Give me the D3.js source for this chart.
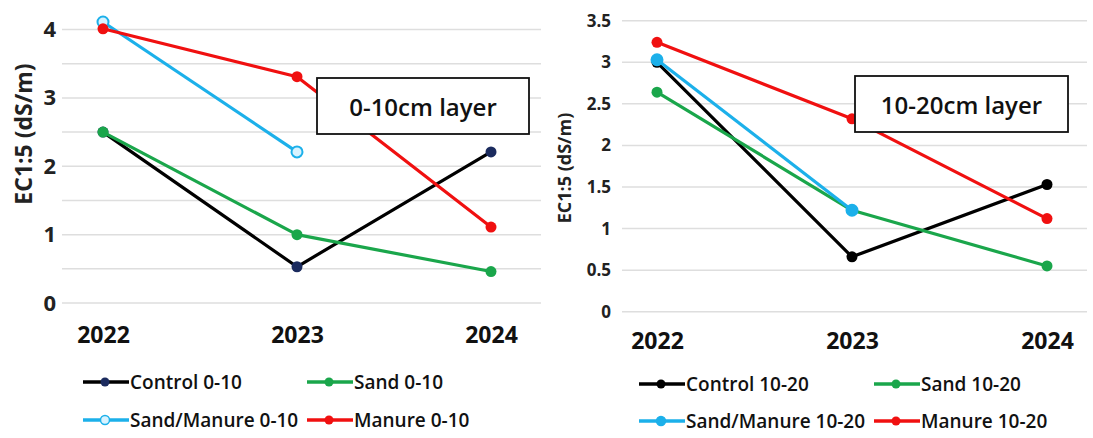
<!DOCTYPE html>
<html>
<head>
<meta charset="utf-8">
<script src="https://cdn.jsdelivr.net/npm/d3@7/dist/d3.min.js"></script>
<style>
html,body{margin:0;padding:0;background:#fff;}
svg{display:block;}
text{font-family:"Open Sans",sans-serif;}
</style>
</head>
<body>
<svg id="chart" width="1093" height="438"></svg>
<script>
// ---- data ----
const years = ["2022", "2023", "2024"];

const leftTicks = [0, 1, 2, 3, 4];
const leftGrid = [0, 0.5, 1, 1.5, 2, 2.5, 3, 3.5, 4];
const control010 = [2.5, 0.53, 2.21];
const sand010 = [2.5, 1.0, 0.46];
const sandManure010 = [4.11, 2.21, null];
const manure010 = [4.01, 3.31, 1.11];
const leftNames = ["Control 0-10", "Sand 0-10", "Sand/Manure 0-10", "Manure 0-10"];

const rightTicks = [0, 0.5, 1, 1.5, 2, 2.5, 3, 3.5];
const rightTickLabels = ["0", "0.5", "1", "1.5", "2", "2.5", "3", "3.5"];
const control1020 = [3.0, 0.66, 1.53];
const sand1020 = [2.64, 1.22, 0.55];
const sandManure1020 = [3.03, 1.22, null];
const manure1020 = [3.24, 2.32, 1.12];
const rightNames = ["Control 10-20", "Sand 10-20", "Sand/Manure 10-20", "Manure 10-20"];

const yTitle = "EC1:5 (dS/m)";
const leftLayer = "0-10cm layer";
const rightLayer = "10-20cm layer";

// ---- styles ----
const lineColors = ["#000000", "#1aa64b", "#1cb0ea", "#f01010"];
const leftMarkerFill = ["#1b2b5e", "#1aa64b", "#d8f3ff", "#f01010"];
const rightMarkerFill = ["#000000", "#1aa64b", "#1cb0ea", "#f01010"];

const svg = d3.select("#chart");

function panel(cfg) {
  const g = svg.append("g");
  const x = d3.scalePoint().domain(years).range(cfg.xRange);
  const y = d3.scaleLinear().domain(cfg.yDomain).range(cfg.yRange);

  // gridlines
  g.append("g").selectAll("line").data(cfg.grid).join("line")
    .attr("x1", cfg.gridX[0]).attr("x2", cfg.gridX[1])
    .attr("y1", d => y(d)).attr("y2", d => y(d))
    .attr("stroke", "#dedede").attr("stroke-width", 1.5);

  // y axis labels
  const yAxis = d3.axisLeft(y).tickValues(cfg.ticks).tickSize(0).tickPadding(0)
    .tickFormat((d, i) => cfg.tickLabels ? cfg.tickLabels[i] : d3.format("d")(d));
  const ya = g.append("g").attr("transform", `translate(${cfg.tickRight},0)`).call(yAxis);
  ya.select(".domain").remove();
  ya.selectAll("text").attr("font-size", cfg.tickSize).attr("font-weight", 700)
    .attr("fill", "#222").attr("font-family", "Open Sans");

  // x axis labels
  const xAxis = d3.axisBottom(x).tickSize(0).tickPadding(0);
  const xa = g.append("g").attr("transform", `translate(0,${cfg.xLabelY})`).call(xAxis);
  xa.select(".domain").remove();
  xa.selectAll("text").attr("font-size", 23).attr("font-weight", 700)
    .attr("fill", "#111").attr("font-family", "Open Sans").attr("dy", 0);

  // y title
  g.append("text").attr("transform", `translate(${cfg.titleX},${cfg.titleY}) rotate(-90)`)
    .attr("text-anchor", "middle").attr("dominant-baseline", "central")
    .attr("font-size", cfg.titleSize).attr("font-weight", 700).attr("fill", "#222")
    .text(yTitle);

  // lines
  const line = d3.line().defined(d => d.v != null).x(d => x(d.year)).y(d => y(d.v));
  cfg.series.forEach((s, i) => {
    const pts = years.map((yr, j) => ({year: yr, v: s[j]}));
    g.append("path").datum(pts).attr("d", line).attr("fill", "none")
      .attr("stroke", lineColors[i]).attr("stroke-width", 3.2).attr("stroke-linejoin", "round");
    g.append("g").selectAll("circle").data(pts.filter(d => d.v != null)).join("circle")
      .attr("cx", d => x(d.year)).attr("cy", d => y(d.v)).attr("r", cfg.markerR)
      .attr("fill", cfg.markerFill[i])
      .attr("stroke", i === 2 ? lineColors[2] : cfg.markerFill[i])
      .attr("stroke-width", i === 2 ? 2 : 0);
  });

  // layer box
  const b = cfg.box;
  g.append("rect").attr("x", b[0]).attr("y", b[1]).attr("width", b[2]).attr("height", b[3])
    .attr("fill", "#fff").attr("stroke", "#111").attr("stroke-width", 1.8);
  g.append("text").attr("x", b[0] + b[2] / 2).attr("y", b[1] + b[3] / 2)
    .attr("text-anchor", "middle").attr("dominant-baseline", "central")
    .attr("font-size", 24).attr("font-weight", 600).attr("fill", "#111").text(cfg.layer);

  // legend
  cfg.legend.forEach((L, i) => {
    const lg = g.append("g");
    lg.append("line").attr("x1", L[0]).attr("x2", L[0] + 46).attr("y1", L[1]).attr("y2", L[1])
      .attr("stroke", lineColors[i]).attr("stroke-width", 3.5);
    lg.append("circle").attr("cx", L[0] + 22).attr("cy", L[1]).attr("r", 4.5)
      .attr("fill", cfg.markerFill[i])
      .attr("stroke", i === 2 ? lineColors[2] : "none").attr("stroke-width", 1.5);
    lg.append("text").attr("x", L[0] + 47).attr("y", L[1]).attr("dominant-baseline", "central")
      .attr("font-size", 19).attr("font-weight", 600).attr("fill", "#111").text(cfg.names[i]);
  });
}

panel({
  xRange: [103, 491], yDomain: [0, 4], yRange: [303, 29.5],
  grid: leftGrid, gridX: [62, 541], ticks: leftTicks, tickRight: 56, tickSize: 22,
  xLabelY: 343, titleX: 23, titleY: 134, titleSize: 23,
  series: [control010, sand010, sandManure010, manure010], markerFill: leftMarkerFill, markerR: 5.5,
  box: [317, 78, 212, 56], layer: leftLayer,
  legend: [[83, 382], [307, 382], [83, 420], [307, 420]], names: leftNames
});

panel({
  xRange: [657, 1047], yDomain: [0, 3.5], yRange: [311.7, 20.7],
  grid: rightTicks, gridX: [622, 1087], ticks: rightTicks, tickLabels: rightTickLabels, tickRight: 611, tickSize: 17,
  xLabelY: 349, titleX: 564, titleY: 168, titleSize: 18,
  series: [control1020, sand1020, sandManure1020, manure1020], markerFill: rightMarkerFill, markerR: 5.5,
  box: [855, 76, 213, 56], layer: rightLayer,
  legend: [[639, 384], [874, 384], [639, 421], [874, 421]], names: rightNames
});
</script>
</body>
</html>
